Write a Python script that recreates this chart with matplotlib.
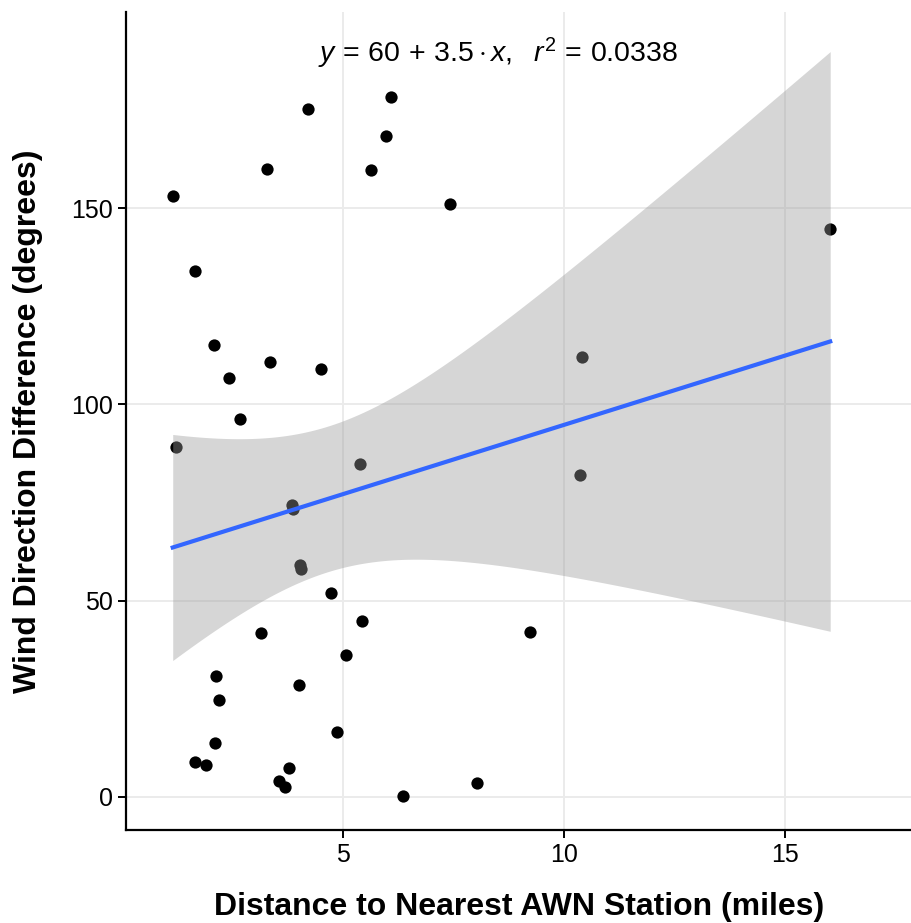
import numpy as np
import matplotlib
matplotlib.use("Agg")
import matplotlib.pyplot as plt

# distance to nearest AWN station (miles) and wind direction difference (deg)
distance = [1.15, 1.22, 1.65, 2.08, 2.42, 2.68, 3.29, 3.36, 4.21, 5.97,
            6.08, 5.63, 7.42, 4.51, 5.38, 3.84, 3.86, 4.03, 4.05, 4.74,
            5.42, 3.15, 5.06, 2.14, 2.20, 4.00, 4.86, 2.10, 1.66, 1.90,
            3.78, 3.55, 3.68, 6.35, 8.03, 9.23, 10.41, 10.36, 16.02]
wind_diff = [153.0, 89.2, 134.1, 115.1, 106.8, 96.4, 159.9, 110.9, 175.3, 168.3,
             178.2, 159.7, 151.0, 108.9, 84.7, 74.4, 73.3, 59.1, 58.0, 52.0,
             44.9, 41.7, 36.2, 30.9, 24.7, 28.4, 16.5, 13.8, 8.8, 8.1,
             7.4, 4.0, 2.6, 0.3, 3.5, 42.0, 112.0, 81.9, 144.6]
eq_label = r"$y\,=\,60\,+\,3.5\cdot x,\ \ r^2\,=\,0.0338$"

x = np.array(distance)
y = np.array(wind_diff)

# linear fit + 95% confidence band (like geom_smooth(method="lm"))
n = len(x)
slope, intercept = np.polyfit(x, y, 1)
xs = np.linspace(x.min(), x.max(), 200)
ys = intercept + slope * xs
resid = y - (intercept + slope * x)
s = np.sqrt(np.sum(resid ** 2) / (n - 2))
t_val = 2.026  # t(0.975, df=37)
se = s * np.sqrt(1 / n + (xs - x.mean()) ** 2 / np.sum((x - x.mean()) ** 2))

plt.rcParams['font.family'] = ['Liberation Sans', 'DejaVu Sans']
plt.rcParams['mathtext.fontset'] = 'custom'
plt.rcParams['mathtext.rm'] = 'Liberation Sans'
plt.rcParams['mathtext.it'] = 'Liberation Sans:italic'

fig = plt.figure(figsize=(9.12, 9.23), dpi=100)
ax = fig.add_axes([0.138, 0.1008, 0.862, 0.886])

ax.scatter(x, y, s=78, color='black', zorder=2, linewidths=0)
ax.fill_between(xs, ys - t_val * se, ys + t_val * se, color='#999999',
                alpha=0.4, linewidth=0, zorder=3)
ax.plot(xs, ys, color='#3366FF', linewidth=3, zorder=4)

ax.text(0.473, 0.95, eq_label, transform=ax.transAxes, ha='center',
        va='center', fontsize=20.5)

ax.set_xlim(0.09, 17.87)
ax.set_ylim(-8.4, 199.9)
ax.set_xticks([5, 10, 15])
ax.set_yticks([0, 50, 100, 150])
ax.grid(True, color='#EBEBEB', linewidth=1.4, zorder=0)
ax.set_axisbelow(True)
for side in ['top', 'right']:
    ax.spines[side].set_visible(False)
for side in ['left', 'bottom']:
    ax.spines[side].set_linewidth(1.6)
ax.tick_params(labelsize=18, length=6, width=1.4, colors='black')

ax.set_xlabel('Distance to Nearest AWN Station (miles)', fontsize=23,
              fontweight='bold', labelpad=18)
ax.set_ylabel('Wind Direction Difference (degrees)', fontsize=23,
              fontweight='bold', labelpad=20)

plt.savefig('out.png', dpi=100)
